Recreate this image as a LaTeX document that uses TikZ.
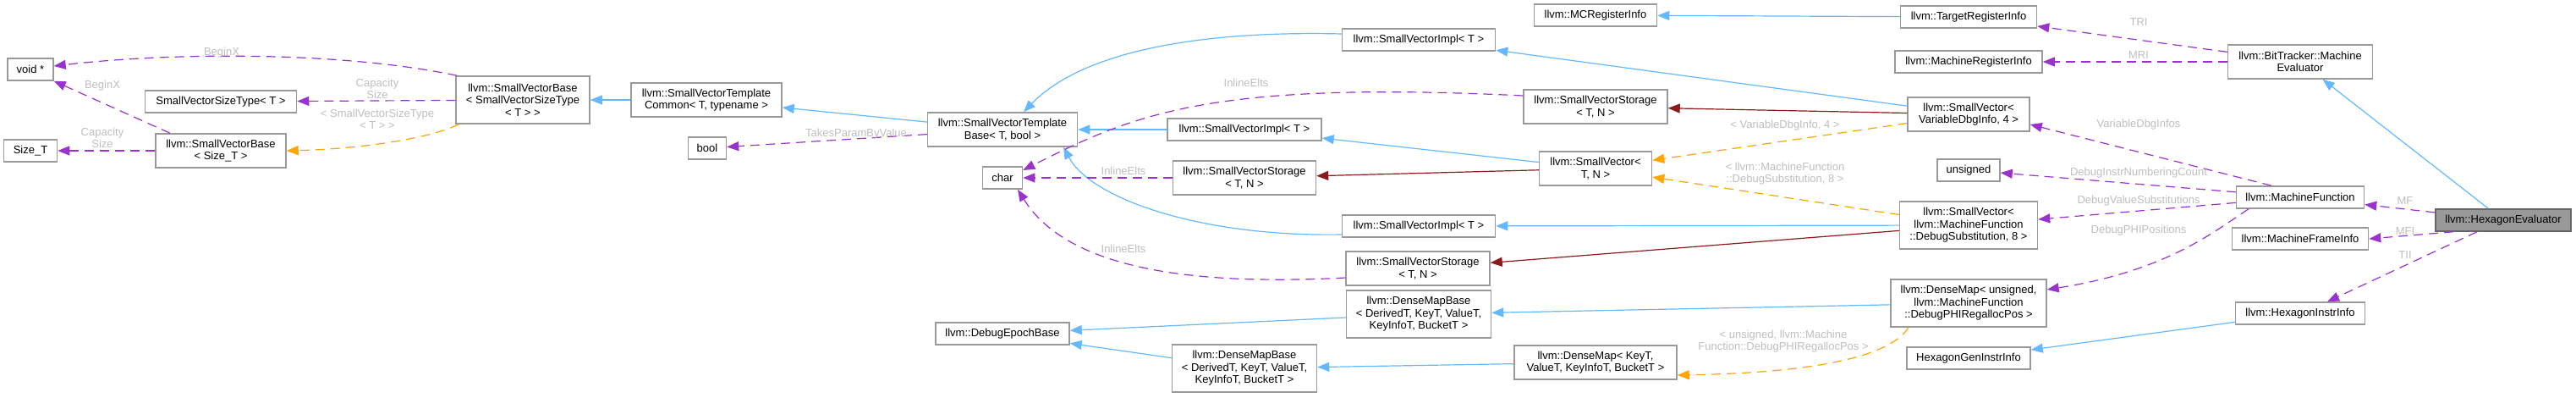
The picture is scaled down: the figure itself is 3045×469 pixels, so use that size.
\documentclass[tikz,border=0pt]{standalone}
\usepackage{fontspec}
\setmainfont{Liberation Sans}
\usepackage{xcolor}
\usepackage{tikz}
\usetikzlibrary{arrows.meta}
\definecolor{boxline}{HTML}{999999}
\definecolor{curline}{HTML}{666666}
\definecolor{curfill}{HTML}{999999}
\definecolor{inhblue}{HTML}{63B8FF}
\definecolor{privred}{HTML}{8B1A1A}
\definecolor{usepurple}{HTML}{9A32CD}
\definecolor{tmplorange}{HTML}{FFA500}
\definecolor{edgelbl}{HTML}{BEBEBE}
\tikzset{
  clsbox/.style={rectangle, draw=boxline, line width=1.5pt, fill=white,
                 align=center, inner xsep=0pt, inner ysep=1pt,
                 font=\fontsize{13}{14.5}\selectfont},
  curbox/.style={clsbox, draw=curline, fill=curfill},
  h1/.style={minimum height=26pt},
  h2/.style={minimum height=40pt},
  h3/.style={minimum height=56pt},
  lbl/.style={text=edgelbl, align=center, inner sep=0pt,
              font=\fontsize{13}{14.5}\selectfont},
  inherit/.style={-{Triangle[length=14pt,width=11pt]}, draw=inhblue, line width=1.2pt},
  privinh/.style={-{Triangle[length=14pt,width=11pt]}, draw=privred, line width=1.2pt},
  usedep/.style={-{Triangle[length=14pt,width=11pt]}, draw=usepurple, line width=1.2pt,
                 dash pattern=on 11pt off 7pt},
  tmplinst/.style={-{Triangle[length=14pt,width=11pt]}, draw=tmplorange, line width=1.2pt,
                   dash pattern=on 11pt off 7pt},
}

\begin{document}
\begin{tikzpicture}[x=1pt, y=-1pt]
  \useasboundingbox (0,0) rectangle (3045,469);
  % leftmost ranks: plain types and size bases
  \node[clsbox,h1,minimum width=54pt]  (voidp)   at (36,82)   {void *};
  \node[clsbox,h1,minimum width=63pt]  (sizet)   at (36,178)  {Size\_T};
  \node[clsbox,h1,minimum width=179pt] (svsize)  at (261,120) {SmallVectorSizeType< T >};
  \node[clsbox,h2,minimum width=154pt] (svbsize) at (261,178) {llvm::SmallVectorBase\\< Size\_T >};
  \node[clsbox,h3,minimum width=158pt] (svbtmpl) at (618,118) {llvm::SmallVectorBase\\< SmallVectorSizeType\\< T > >};
  \node[clsbox,h2,minimum width=178pt] (svtcommon) at (835,118) {llvm::SmallVectorTemplate\\Common< T, typename >};
  \node[clsbox,h1,minimum width=45pt]  (boolt)   at (836,175) {bool};
  \node[clsbox,h2,minimum width=177pt] (svtbase) at (1185,153) {llvm::SmallVectorTemplate\\Base< T, bool >};
  \node[clsbox,h1,minimum width=47pt]  (chart)   at (1185,210) {char};
  \node[clsbox,h1,minimum width=158pt] (epoch)   at (1185,394) {llvm::DebugEpochBase};
  % middle ranks: impl, storage, map bases
  \node[clsbox,h1,minimum width=182pt] (svimplB) at (1471,153) {llvm::SmallVectorImpl< T >};
  \node[clsbox,h2,minimum width=169pt] (svstorB) at (1471,210) {llvm::SmallVectorStorage\\< T, N >};
  \node[clsbox,h3,minimum width=171pt] (dmbaseB) at (1471,435) {llvm::DenseMapBase\\< DerivedT, KeyT, ValueT,\\KeyInfoT, BucketT >};
  \node[clsbox,h1,minimum width=181pt] (svimplA) at (1677,47)  {llvm::SmallVectorImpl< T >};
  \node[clsbox,h1,minimum width=181pt] (svimplC) at (1677,267) {llvm::SmallVectorImpl< T >};
  \node[clsbox,h2,minimum width=170pt] (svstorC) at (1676,317) {llvm::SmallVectorStorage\\< T, N >};
  \node[clsbox,h3,minimum width=171pt] (dmbaseA) at (1677,371) {llvm::DenseMapBase\\< DerivedT, KeyT, ValueT,\\KeyInfoT, BucketT >};
  \node[clsbox,h1,minimum width=145pt] (mcreg)   at (1886,18)  {llvm::MCRegisterInfo};
  \node[clsbox,h2,minimum width=170pt] (svstorA) at (1886,126) {llvm::SmallVectorStorage\\< T, N >};
  \node[clsbox,h2,minimum width=133pt] (svgen)   at (1886,199) {llvm::SmallVector<\\T, N >};
  \node[clsbox,h2,minimum width=192pt] (dmgen)   at (1886,428) {llvm::DenseMap< KeyT,\\ValueT, KeyInfoT, BucketT >};
  % instances and members
  \node[clsbox,h1,minimum width=161pt] (tri)     at (2327,20)  {llvm::TargetRegisterInfo};
  \node[clsbox,h1,minimum width=174pt] (mri)     at (2327,73)  {llvm::MachineRegisterInfo};
  \node[clsbox,h2,minimum width=144pt] (svvdi)   at (2327,135) {llvm::SmallVector<\\VariableDbgInfo, 4 >};
  \node[clsbox,h1,minimum width=74pt]  (unsignedt) at (2327,201) {unsigned};
  \node[clsbox,h3,minimum width=163pt] (svsubst) at (2327,266) {llvm::SmallVector<\\llvm::MachineFunction\\::DebugSubstitution, 8 >};
  \node[clsbox,h3,minimum width=184pt] (dmphi)   at (2327,358) {llvm::DenseMap< unsigned,\\llvm::MachineFunction\\::DebugPHIRegallocPos >};
  \node[clsbox,h1,minimum width=146pt] (hgenii)  at (2327,423) {HexagonGenInstrInfo};
  \node[clsbox,h2,minimum width=171pt] (mevalr)  at (2719,73)  {llvm::BitTracker::Machine\\Evaluator};
  \node[clsbox,h1,minimum width=151pt] (mfunc)   at (2719,233) {llvm::MachineFunction};
  \node[clsbox,h1,minimum width=161pt] (mframe)  at (2719,282) {llvm::MachineFrameInfo};
  \node[clsbox,h1,minimum width=153pt] (hinstr)  at (2719,370) {llvm::HexagonInstrInfo};
  \node[curbox,h1,minimum width=160pt] (hexeval) at (2959,260) {llvm::HexagonEvaluator};
  % public inheritance
  \draw[inherit] (svtcommon) -- (svbtmpl);
  \draw[inherit] (svtbase) -- (svtcommon);
  \draw[inherit] ([yshift=7pt]svimplA.west) .. controls (1420,36) and (1280,60) .. ([xshift=25pt]svtbase.north);
  \draw[inherit] (svimplB) -- (svtbase);
  \draw[inherit] ([yshift=-10pt]svimplC.west) .. controls (1420,280) and (1290,235) .. ([xshift=72pt]svtbase.south);
  \draw[inherit] (svvdi) -- (svimplA);
  \draw[inherit] (svgen) -- (svimplB);
  \draw[inherit] (svsubst) -- (svimplC);
  \draw[inherit] (tri) -- (mcreg);
  \draw[inherit] (dmbaseA) -- (epoch);
  \draw[inherit] (dmbaseB) -- (epoch);
  \draw[inherit] (dmphi) -- (dmbaseA);
  \draw[inherit] (dmgen) -- (dmbaseB);
  \draw[inherit] (hinstr) -- (hgenii);
  \draw[inherit] (hexeval) -- (mevalr);
  % private inheritance
  \draw[privinh] (svvdi) -- (svstorA);
  \draw[privinh] (svgen) -- (svstorB);
  \draw[privinh] (svsubst) -- (svstorC);
  % template instances
  \draw[tmplinst] ([xshift=4pt]svbtmpl.south west) .. controls (505,165) and (420,176) .. (svbsize.east);
  \draw[tmplinst] (svvdi) -- (svgen);
  \draw[tmplinst] (svsubst) -- (svgen);
  \draw[tmplinst] ([xshift=-71pt]dmphi.south) .. controls (2235,420) and (2150,440) .. ([yshift=-15pt]dmgen.east);
  % usage
  \draw[usedep] ([xshift=2pt]svbtmpl.north west) .. controls (400,60) and (200,62) .. ([yshift=4pt]voidp.east);
  \draw[usedep] ([xshift=-60pt]svbsize.north) -- (voidp.south east);
  \draw[usedep] (svbtmpl) -- (svsize);
  \draw[usedep] (svbsize) -- (sizet);
  \draw[usedep] (svtbase) -- (boolt);
  \draw[usedep] ([yshift=13pt]svstorA.west) .. controls (1430,95) and (1340,135) .. ([yshift=9pt]chart.east);
  \draw[usedep] (svstorB) -- (chart);
  \draw[usedep] ([yshift=-11pt]svstorC.west) .. controls (1400,338) and (1260,315) .. ([xshift=18pt]chart.south);
  \draw[usedep] (mevalr) -- (tri);
  \draw[usedep] (mevalr) -- (mri);
  \draw[usedep] ([xshift=-34pt]mfunc.north) -- ([yshift=-12pt]svvdi.east);
  \draw[usedep] (mfunc) -- (unsignedt);
  \draw[usedep] (mfunc) -- (svsubst);
  \draw[usedep] ([xshift=-61pt]mfunc.south) .. controls (2615,275) and (2560,320) .. ([yshift=16pt]dmphi.east);
  \draw[usedep] (hexeval) -- (mfunc);
  \draw[usedep] ([xshift=-59pt]hexeval.south) -- (mframe.east);
  \draw[usedep] ([xshift=-31pt]hexeval.south) -- ([xshift=32pt]hinstr.north);
  % edge labels
  \node[lbl] (lbBeginA) at (262,62)   {BeginX};
  \node[lbl] (lbBeginB) at (121,101)  {BeginX};
  \node[lbl] (lbCapA)   at (446,105)  {Capacity\\Size};
  \node[lbl] (lbSizeT)  at (446,141)  {< SmallVectorSizeType\\< T > >};
  \node[lbl] (lbCapB)   at (121,163)  {Capacity\\Size};
  \node[lbl] (lbTakes)  at (1012,158) {TakesParamByValue};
  \node[lbl] (lbInlA)   at (1473,98)  {InlineElts};
  \node[lbl] (lbInlB)   at (1328,202) {InlineElts};
  \node[lbl] (lbInlC)   at (1328,294) {InlineElts};
  \node[lbl] (lbVdi)    at (2110,148) {< VariableDbgInfo, 4 >};
  \node[lbl] (lbSubst)  at (2110,205) {< llvm::MachineFunction\\::DebugSubstitution, 8 >};
  \node[lbl] (lbPhi)    at (2108,403) {< unsigned, llvm::Machine\\Function::DebugPHIRegallocPos >};
  \node[lbl] (lbTri)    at (2528,26)  {TRI};
  \node[lbl] (lbMri)    at (2528,65)  {MRI};
  \node[lbl] (lbVdis)   at (2528,147) {VariableDbgInfos};
  \node[lbl] (lbNum)    at (2528,204) {DebugInstrNumberingCount};
  \node[lbl] (lbVsub)   at (2528,237) {DebugValueSubstitutions};
  \node[lbl] (lbPhis)   at (2528,272) {DebugPHIPositions};
  \node[lbl] (lbMF)     at (2843,237) {MF};
  \node[lbl] (lbMFI)    at (2843,273) {MFI};
  \node[lbl] (lbTII)    at (2843,301) {TII};
\end{tikzpicture}
\end{document}
